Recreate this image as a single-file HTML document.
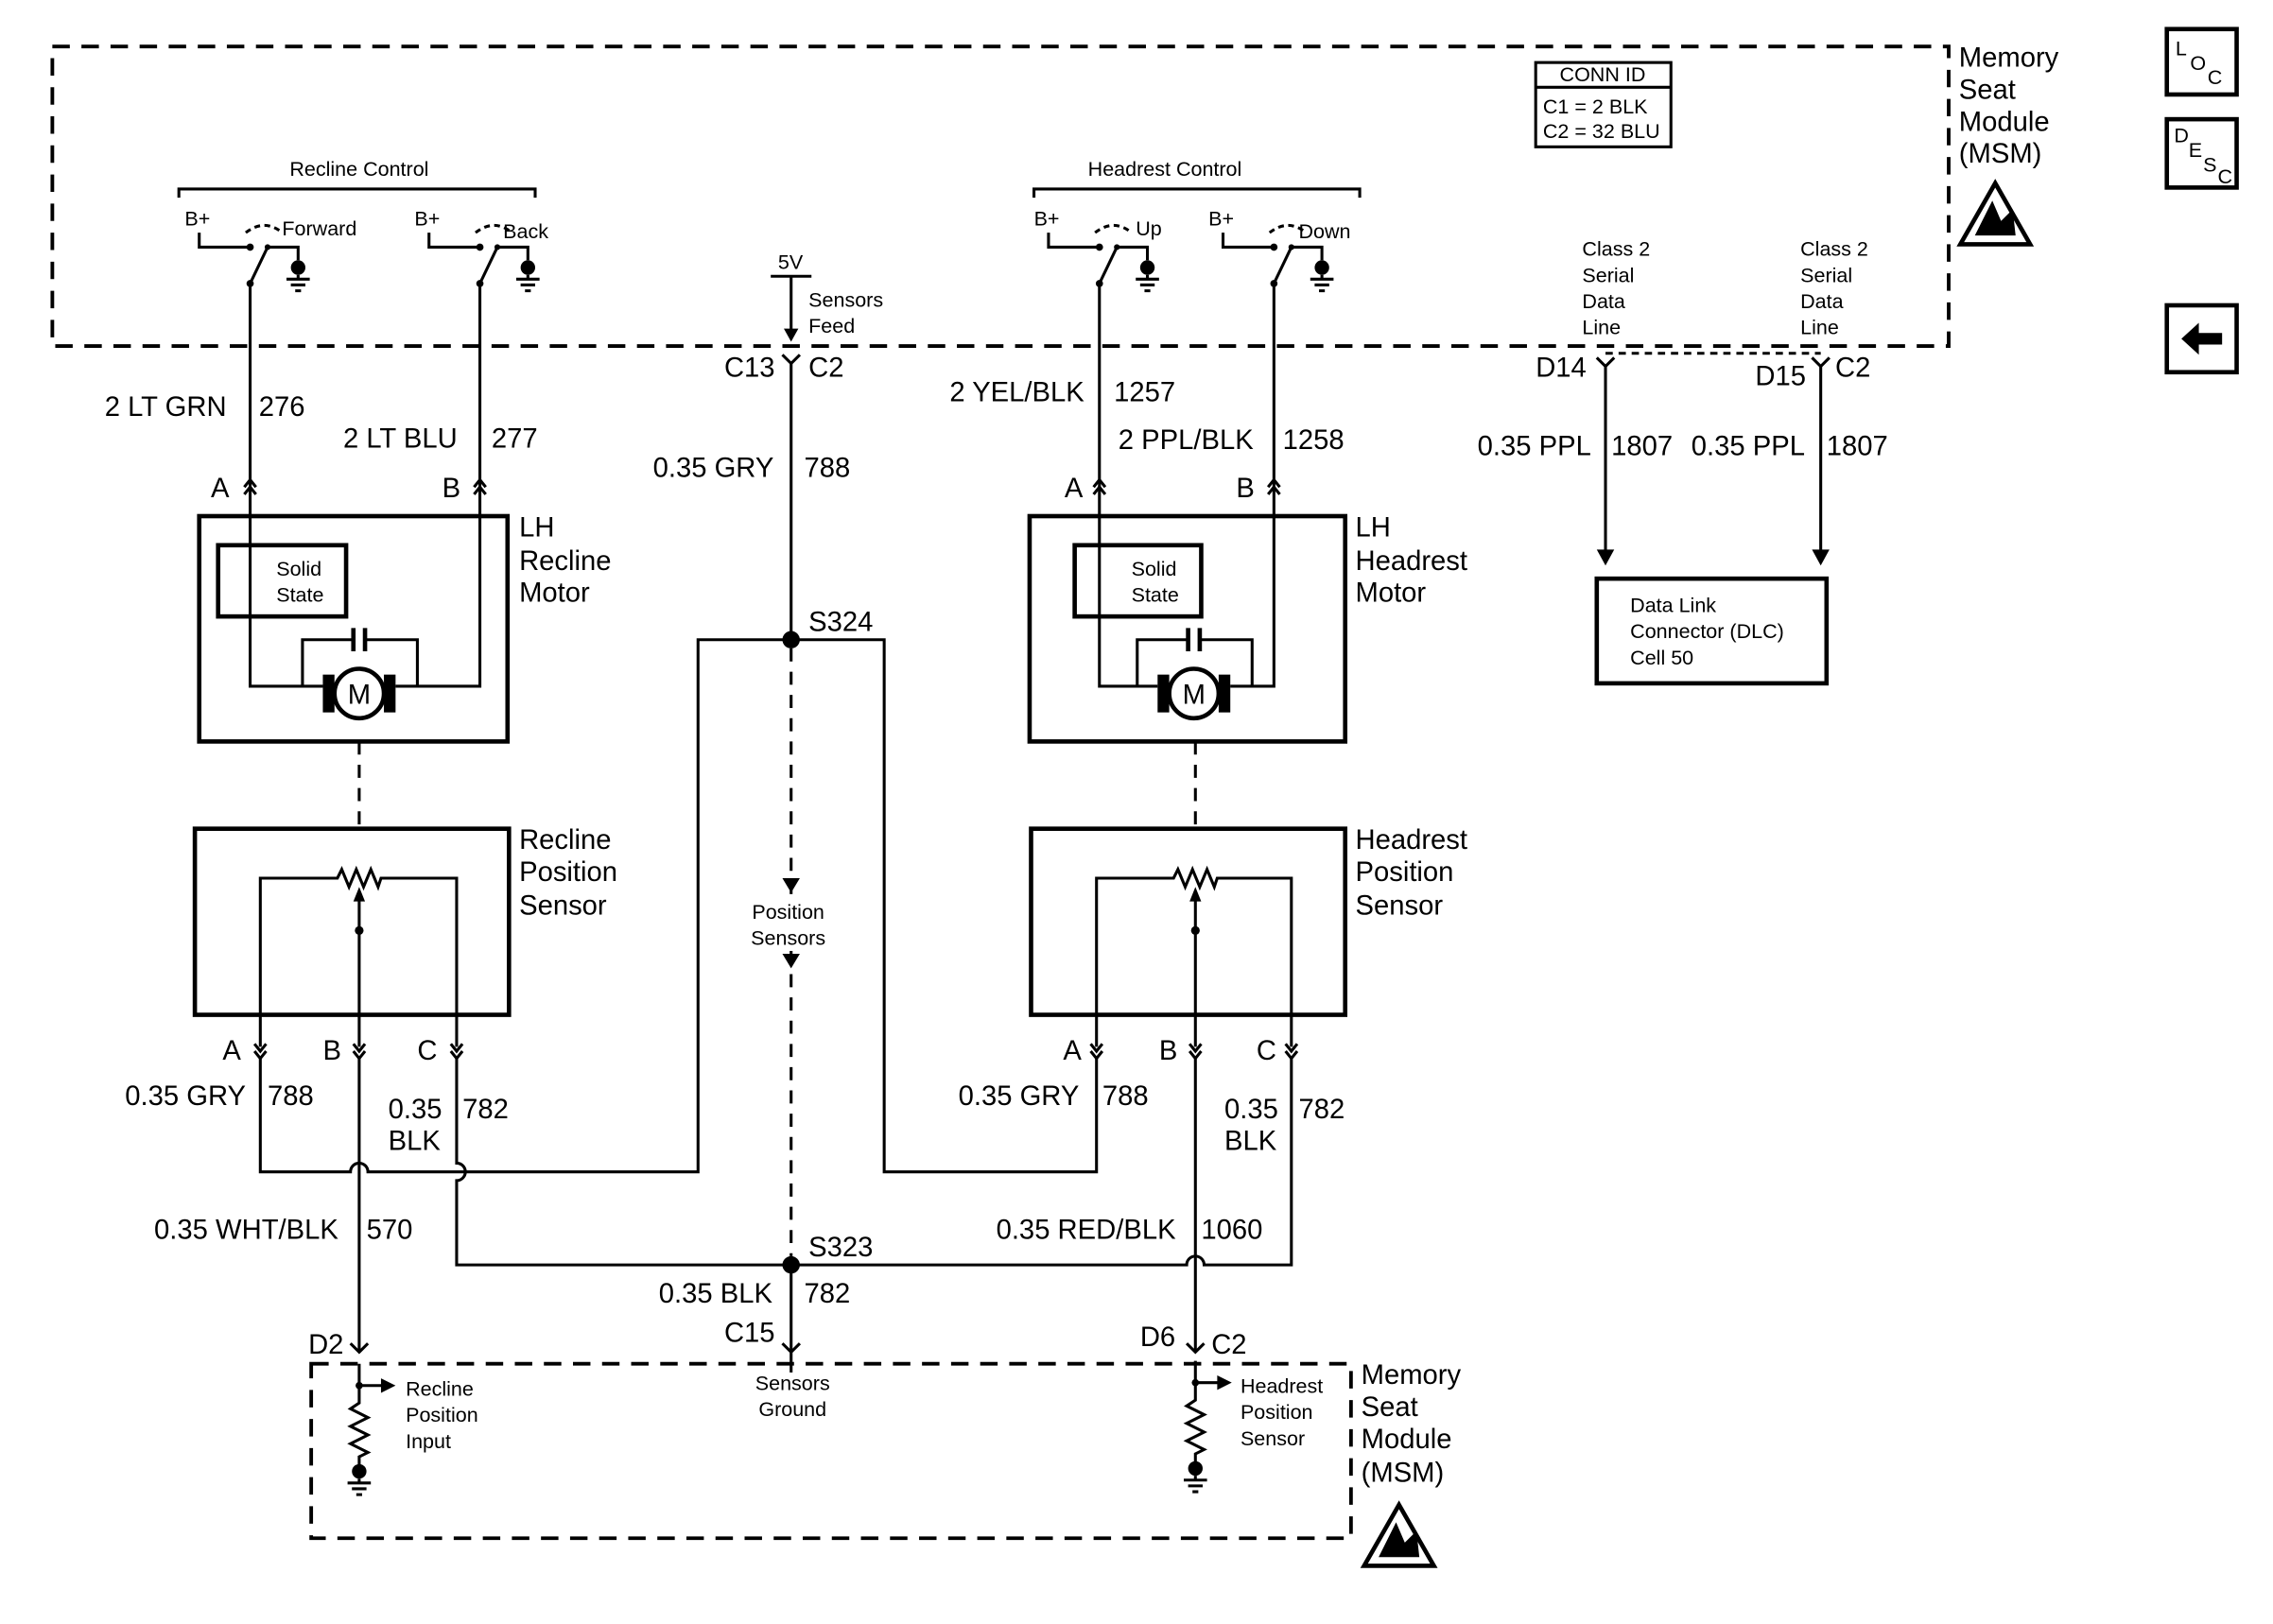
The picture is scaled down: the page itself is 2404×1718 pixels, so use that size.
<!DOCTYPE html>
<html><head><meta charset="utf-8"><style>
html,body{margin:0;padding:0;background:#fff;}
svg{display:block;}
text{font-family:"Liberation Sans",Arial,sans-serif;fill:#000;}
.L{font-size:19px;}
.S{font-size:14px;}
.w{stroke:#000;stroke-width:2;fill:none;}
.b{stroke:#000;stroke-width:3;fill:none;}
.d{stroke:#000;stroke-width:2.5;fill:none;stroke-dasharray:12 8;}
.dd{stroke:#000;stroke-width:2;fill:none;stroke-dasharray:9 7;}
</style></head><body>
<svg width="2404" height="1718" viewBox="0 0 1563 1117" preserveAspectRatio="none">
<defs>
<g id="up"><path class="w" d="M-4,5 L0,0 L4,5 M-4,10 L0,5 L4,10"/></g>
<g id="dn"><path class="w" d="M-4,-5 L0,0 L4,-5 M-4,-10 L0,-5 L4,-10"/></g>
<g id="gnd"><circle cx="0" cy="0" r="5" fill="#000"/><path class="w" d="M0,5 V8 M-8,8 H8 M-5,12 H5 M-2,16 H2"/></g>
<g id="sw"><text class="S" x="-45" y="-27">B+</text><path class="w" d="M-35,-22 V-12 H-10 L0,-12"/><circle cx="0" cy="-12" r="2.5" fill="#000"/><path class="w" d="M0,13 L12,-12"/><circle cx="0" cy="13" r="2.5" fill="#000"/><path class="w" d="M-3,-22 Q10,-32 22,-22 " stroke-dasharray="4 3"/><circle cx="12" cy="-12" r="2" fill="#000"/><path class="w" d="M12,-12 H33 V-3"/><use href="#gnd" x="33" y="2"/></g>
<g id="tri"><path d="M-24,22 L0,-20 L24,22 Z" fill="#fff" stroke="#000" stroke-width="3"/><path d="M-14,16 L-2,-8 L4,6 L12,-2 L14,16 Z" fill="#000"/></g>
</defs>

<rect x="36" y="32" width="1304" height="206" class="d"/>
<text class="L" x="1347" y="46">Memory</text><text class="L" x="1347" y="68">Seat</text><text class="L" x="1347" y="90">Module</text><text class="L" x="1347" y="112">(MSM)</text>
<use href="#tri" x="1372" y="146"/>
<rect x="1056" y="43" width="93" height="58" class="w"/><line x1="1056" y1="60" x2="1149" y2="60" class="w"/>
<text class="S" x="1102" y="56" text-anchor="middle">CONN ID</text>
<text class="S" x="1061" y="78">C1 = 2 BLK</text><text class="S" x="1061" y="95">C2 = 32 BLU</text>

<rect x="1490" y="20" width="48" height="45" class="b"/><text class="S" x="1496" y="38">L</text><text class="S" x="1506" y="48">O</text><text class="S" x="1518" y="58">C</text>
<rect x="1490" y="82" width="48" height="47" class="b"/><text class="S" x="1495" y="98">D</text><text class="S" x="1505" y="108">E</text><text class="S" x="1515" y="118">S</text><text class="S" x="1525" y="126">C</text>
<rect x="1490" y="210" width="48" height="46" class="b"/><path d="M1500,233 L1512,222 V229 H1528 V237 H1512 V244 Z" fill="#000"/>

<path class="w" d="M123,136 V130 H368 V136"/><text class="S" x="247" y="121" text-anchor="middle">Recline Control</text>
<use href="#sw" x="172" y="182"/><text class="S" x="194" y="162">Forward</text>
<use href="#sw" x="330" y="182"/><text class="S" x="346" y="164">Back</text>
<path class="w" d="M711,136 V130 H935 V136"/><text class="S" x="801" y="121" text-anchor="middle">Headrest Control</text>
<use href="#sw" x="756" y="182"/><text class="S" x="781" y="162">Up</text>
<use href="#sw" x="876" y="182"/><text class="S" x="893" y="164">Down</text>

<path class="w" d="M172,195 V472 H222"/><path class="w" d="M330,195 V472 H272"/>
<path class="w" d="M756,195 V472 H796"/><path class="w" d="M876,195 V472 H846"/>
<use href="#up" x="172" y="330"/><use href="#up" x="330" y="330"/><use href="#up" x="756" y="330"/><use href="#up" x="876" y="330"/>
<text class="L" x="72" y="286">2 LT GRN</text><text class="L" x="178" y="286">276</text>
<text class="L" x="236" y="308">2 LT BLU</text><text class="L" x="338" y="308">277</text>
<text class="L" x="145" y="342">A</text><text class="L" x="304" y="342">B</text>
<text class="L" x="653" y="276">2 YEL/BLK</text><text class="L" x="766" y="276">1257</text>
<text class="L" x="769" y="309">2 PPL/BLK</text><text class="L" x="882" y="309">1258</text>
<text class="L" x="732" y="342">A</text><text class="L" x="850" y="342">B</text>

<rect x="137" y="355" width="212" height="155" class="b"/>
<text class="L" x="357" y="369">LH</text><text class="L" x="357" y="392">Recline</text><text class="L" x="357" y="414">Motor</text>
<rect x="150" y="375" width="88" height="49" class="b"/><text class="S" x="190" y="396">Solid</text><text class="S" x="190" y="414">State</text>
<path class="w" d="M208,472 V440 H242 M252,440 H287 V472"/><path class="b" d="M243,432 V448 M251,432 V448"/>
<rect x="222" y="464" width="8" height="26" fill="#000"/><rect x="264" y="464" width="8" height="26" fill="#000"/>
<circle cx="247" cy="477" r="17" fill="#fff" stroke="#000" stroke-width="3"/><text class="L" x="247" y="484" text-anchor="middle">M</text>

<rect x="708" y="355" width="217" height="155" class="b"/>
<text class="L" x="932" y="369">LH</text><text class="L" x="932" y="392">Headrest</text><text class="L" x="932" y="414">Motor</text>
<rect x="739" y="375" width="87" height="49" class="b"/><text class="S" x="778" y="396">Solid</text><text class="S" x="778" y="414">State</text>
<path class="w" d="M782,472 V440 H816 M826,440 H861 V472"/><path class="b" d="M817,432 V448 M825,432 V448"/>
<rect x="796" y="464" width="8" height="26" fill="#000"/><rect x="838" y="464" width="8" height="26" fill="#000"/>
<circle cx="821" cy="477" r="17" fill="#fff" stroke="#000" stroke-width="3"/><text class="L" x="821" y="484" text-anchor="middle">M</text>

<line x1="247" y1="510" x2="247" y2="570" class="dd"/><line x1="822" y1="510" x2="822" y2="570" class="dd"/>

<rect x="134" y="570" width="216" height="128" class="b"/>
<text class="L" x="357" y="584">Recline</text><text class="L" x="357" y="606">Position</text><text class="L" x="357" y="629">Sensor</text>
<path class="w" d="M179,720 V604 H232 l3,-6 l5,12 l5,-12 l5,12 l5,-12 l5,12 l2,-6 H314 V720"/>
<path class="w" d="M247,720 V614"/><path d="M243,620 L247,610 L251,620 Z" fill="#000"/><circle cx="247" cy="640" r="3" fill="#000"/>
<rect x="709" y="570" width="216" height="128" class="b"/>
<text class="L" x="932" y="584">Headrest</text><text class="L" x="932" y="606">Position</text><text class="L" x="932" y="629">Sensor</text>
<path class="w" d="M754,720 V604 H807 l3,-6 l5,12 l5,-12 l5,12 l5,-12 l5,12 l2,-6 H888 V720"/>
<path class="w" d="M822,720 V614"/><path d="M818,620 L822,610 L826,620 Z" fill="#000"/><circle cx="822" cy="640" r="3" fill="#000"/>

<g><use href="#dn" x="179" y="728"/><use href="#dn" x="247" y="728"/><use href="#dn" x="314" y="728"/><use href="#dn" x="754" y="728"/><use href="#dn" x="822" y="728"/><use href="#dn" x="888" y="728"/></g>
<text class="L" x="153" y="729">A</text><text class="L" x="222" y="729">B</text><text class="L" x="287" y="729">C</text>
<text class="L" x="731" y="729">A</text><text class="L" x="797" y="729">B</text><text class="L" x="864" y="729">C</text>

<path class="w" d="M179,728 V806 H241 a6,6 0 0 1 12,0 H480 V440 H608 V806 H754 V728"/>
<path class="w" d="M247,728 V930"/>
<path class="w" d="M314,728 V800 a6,6 0 0 1 0,12 V870 H816 a6,6 0 0 1 12,0 H888 V728"/>
<path class="w" d="M822,728 V930"/>
<path class="w" d="M544,250 V440"/><path class="w" d="M544,870 V930"/>
<circle cx="544" cy="440" r="6" fill="#000"/><circle cx="544" cy="870" r="6" fill="#000"/>
<line x1="544" y1="446" x2="544" y2="864" class="dd"/>
<path d="M538,604 L544,614 L550,604 Z" fill="#000"/><path d="M538,656 L544,666 L550,656 Z" fill="#000"/>
<rect x="510" y="618" width="66" height="36" fill="#fff"/>
<text class="S" x="542" y="632" text-anchor="middle">Position</text><text class="S" x="542" y="650" text-anchor="middle">Sensors</text>
<text class="L" x="556" y="434">S324</text><text class="L" x="556" y="864">S323</text>

<text class="L" x="86" y="760">0.35 GRY</text><text class="L" x="184" y="760">788</text>
<text class="L" x="267" y="769">0.35</text><text class="L" x="267" y="791">BLK</text><text class="L" x="318" y="769">782</text>
<text class="L" x="659" y="760">0.35 GRY</text><text class="L" x="758" y="760">788</text>
<text class="L" x="842" y="769">0.35</text><text class="L" x="842" y="791">BLK</text><text class="L" x="893" y="769">782</text>
<text class="L" x="106" y="852">0.35 WHT/BLK</text><text class="L" x="252" y="852">570</text>
<text class="L" x="685" y="852">0.35 RED/BLK</text><text class="L" x="826" y="852">1060</text>
<text class="L" x="453" y="896">0.35 BLK</text><text class="L" x="553" y="896">782</text>
<text class="L" x="449" y="328">0.35 GRY</text><text class="L" x="553" y="328">788</text>

<text class="S" x="535" y="185">5V</text><path class="w" d="M530,190 H558"/><path class="w" d="M544,190 V228"/><path d="M539,226 L544,235 L549,226 Z" fill="#000"/>
<text class="S" x="556" y="211">Sensors</text><text class="S" x="556" y="229">Feed</text>
<path class="w" d="M538,244 L544,250 L550,244"/>
<text class="L" x="498" y="259">C13</text><text class="L" x="556" y="259">C2</text>

<text class="S" x="1088" y="176">Class 2</text><text class="S" x="1088" y="194">Serial</text><text class="S" x="1088" y="212">Data</text><text class="S" x="1088" y="230">Line</text>
<text class="S" x="1238" y="176">Class 2</text><text class="S" x="1238" y="194">Serial</text><text class="S" x="1238" y="212">Data</text><text class="S" x="1238" y="230">Line</text>
<line x1="1104" y1="243" x2="1252" y2="243" stroke="#000" stroke-width="2" stroke-dasharray="5 4"/>
<path class="w" d="M1098,246 L1104,252 L1110,246 M1246,246 L1252,252 L1258,246"/>
<path class="w" d="M1104,252 V382 M1252,252 V382"/>
<path d="M1098,378 L1104,389 L1110,378 Z" fill="#000"/><path d="M1246,378 L1252,389 L1258,378 Z" fill="#000"/>
<text class="L" x="1056" y="259">D14</text><text class="L" x="1207" y="265">D15</text><text class="L" x="1262" y="259">C2</text>
<text class="L" x="1016" y="313">0.35 PPL</text><text class="L" x="1108" y="313">1807</text>
<text class="L" x="1163" y="313">0.35 PPL</text><text class="L" x="1256" y="313">1807</text>
<rect x="1098" y="398" width="158" height="72" class="b"/>
<text class="S" x="1121" y="421">Data Link</text><text class="S" x="1121" y="439">Connector (DLC)</text><text class="S" x="1121" y="457">Cell 50</text>

<path class="w" d="M241,924 L247,930 L253,924 M538,924 L544,930 L550,924 M816,924 L822,930 L828,924"/>
<text class="L" x="212" y="931">D2</text><text class="L" x="498" y="923">C15</text><text class="L" x="784" y="926">D6</text><text class="L" x="833" y="931">C2</text>
<rect x="214" y="938" width="715" height="120" class="d"/>
<text class="L" x="936" y="952">Memory</text><text class="L" x="936" y="974">Seat</text><text class="L" x="936" y="996">Module</text><text class="L" x="936" y="1019">(MSM)</text>
<use href="#tri" x="962" y="1055"/>
<path class="w" d="M544,930 V944"/>
<text class="S" x="545" y="956" text-anchor="middle">Sensors</text><text class="S" x="545" y="974" text-anchor="middle">Ground</text>
<g id="inp">
<path class="w" d="M247,938 V953 H263"/><path d="M262,948 L272,953 L262,958 Z" fill="#000"/><circle cx="247" cy="953" r="2.5" fill="#000"/>
<path class="w" d="M247,953 V965 l-6,4 l12,6 l-12,6 l12,6 l-12,6 l12,6 l-6,3 V1008"/>
<use href="#gnd" x="247" y="1012"/>
</g>
<use href="#inp" x="575" y="-2"/>
<text class="S" x="279" y="960">Recline</text><text class="S" x="279" y="978">Position</text><text class="S" x="279" y="996">Input</text>
<text class="S" x="853" y="958">Headrest</text><text class="S" x="853" y="976">Position</text><text class="S" x="853" y="994">Sensor</text>
</svg>
</body></html>
